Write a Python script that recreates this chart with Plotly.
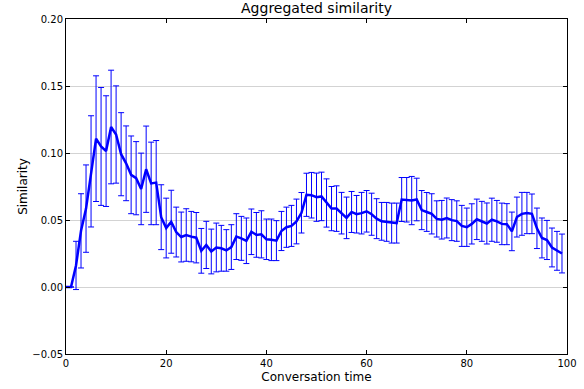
import plotly.graph_objects as go

x_values = list(range(100))
similarity = [
    0.0, 0.0, 0.0161, 0.0419, 0.0585, 0.0863, 0.1107, 0.1049, 0.1014, 0.1194,
    0.1138, 0.0991, 0.0923, 0.0837, 0.0812, 0.0732, 0.0879, 0.0773, 0.0779, 0.0521,
    0.0440, 0.0487, 0.0410, 0.0373, 0.0388, 0.0376, 0.0368, 0.0270, 0.0314, 0.0265,
    0.0295, 0.0289, 0.0273, 0.0298, 0.0376, 0.0363, 0.0345, 0.0412, 0.0389, 0.0393,
    0.0356, 0.0352, 0.0346, 0.0418, 0.0446, 0.0456, 0.0489, 0.0554, 0.0688, 0.0685,
    0.0670, 0.0676, 0.0627, 0.0585, 0.0585, 0.0551, 0.0516, 0.0560, 0.0543, 0.0551,
    0.0565, 0.0543, 0.0510, 0.0490, 0.0486, 0.0477, 0.0477, 0.0653, 0.0651, 0.0645,
    0.0653, 0.0574, 0.0560, 0.0546, 0.0508, 0.0502, 0.0515, 0.0499, 0.0492, 0.0456,
    0.0446, 0.0471, 0.0505, 0.0490, 0.0474, 0.0502, 0.0490, 0.0471, 0.0469, 0.0415,
    0.0522, 0.0546, 0.0552, 0.0546, 0.0438, 0.0366, 0.0351, 0.0295, 0.0270, 0.0250,
]
error = [
    0.0, 0.0, 0.0180, 0.0277, 0.0326, 0.0415, 0.0469, 0.0440, 0.0413, 0.0424,
    0.0363, 0.0310, 0.0279, 0.0290, 0.0273, 0.0267, 0.0322, 0.0308, 0.0314, 0.0242,
    0.0223, 0.0235, 0.0186, 0.0186, 0.0196, 0.0188, 0.0188, 0.0167, 0.0176, 0.0167,
    0.0182, 0.0171, 0.0155, 0.0167, 0.0171, 0.0164, 0.0170, 0.0170, 0.0167, 0.0176,
    0.0151, 0.0155, 0.0149, 0.0146, 0.0150, 0.0153, 0.0167, 0.0151, 0.0161, 0.0170,
    0.0180, 0.0181, 0.0180, 0.0165, 0.0170, 0.0155, 0.0155, 0.0153, 0.0140, 0.0155,
    0.0155, 0.0157, 0.0149, 0.0141, 0.0145, 0.0149, 0.0149, 0.0164, 0.0166, 0.0180,
    0.0159, 0.0146, 0.0145, 0.0150, 0.0135, 0.0144, 0.0149, 0.0153, 0.0151, 0.0153,
    0.0143, 0.0150, 0.0151, 0.0149, 0.0153, 0.0161, 0.0156, 0.0155, 0.0153, 0.0144,
    0.0149, 0.0160, 0.0154, 0.0148, 0.0151, 0.0149, 0.0146, 0.0145, 0.0145, 0.0145,
]
y_ticks = [-0.05, 0.0, 0.05, 0.10, 0.15, 0.20]
x_ticks = [0, 20, 40, 60, 80, 100]

fig = go.Figure()
fig.add_trace(go.Scatter(
    x=x_values, y=similarity, mode="lines",
    line=dict(color="#0000ff", width=2.5),
    error_y=dict(type="data", array=error, visible=True,
                 color="#0000ff", thickness=1, width=3),
    showlegend=False,
))

font_family = "DejaVu Sans"
fig.update_layout(
    width=584, height=389,
    margin=dict(l=65.5, r=16.5, t=19, b=35, autoexpand=False),
    paper_bgcolor="white", plot_bgcolor="white",
    font=dict(family=font_family, size=10, color="black"),
    title=dict(text="Aggregated similarity", x=0.5, xanchor="center",
               xref="paper", y=(389 - 3) / 389, yref="container", yanchor="top",
               font=dict(size=14, family=font_family, color="black")),
    xaxis=dict(range=[0, 100], tickvals=x_ticks, ticktext=[str(t) for t in x_ticks],
               showgrid=False, zeroline=False, showline=True, linecolor="black",
               linewidth=1, mirror="ticks", ticks="inside", ticklen=4,
               tickcolor="black", automargin=False,
               title=dict(text="Conversation time", font=dict(size=12), standoff=4)),
    yaxis=dict(range=[-0.05, 0.20], tickvals=y_ticks,
               ticktext=["\u22120.05", "0.00", "0.05", "0.10", "0.15", "0.20"],
               showgrid=True, gridcolor="#d3d3d3", gridwidth=1, zeroline=False,
               showline=True, linecolor="black", linewidth=1, mirror="ticks",
               ticks="inside", ticklen=4, tickcolor="black", automargin=False,
               title=dict(text="Similarity", font=dict(size=12), standoff=2)),
)
fig.write_html("out.html", config={"displayModeBar": False},
               post_script="document.body.style.margin='0';document.body.style.padding='0';")
